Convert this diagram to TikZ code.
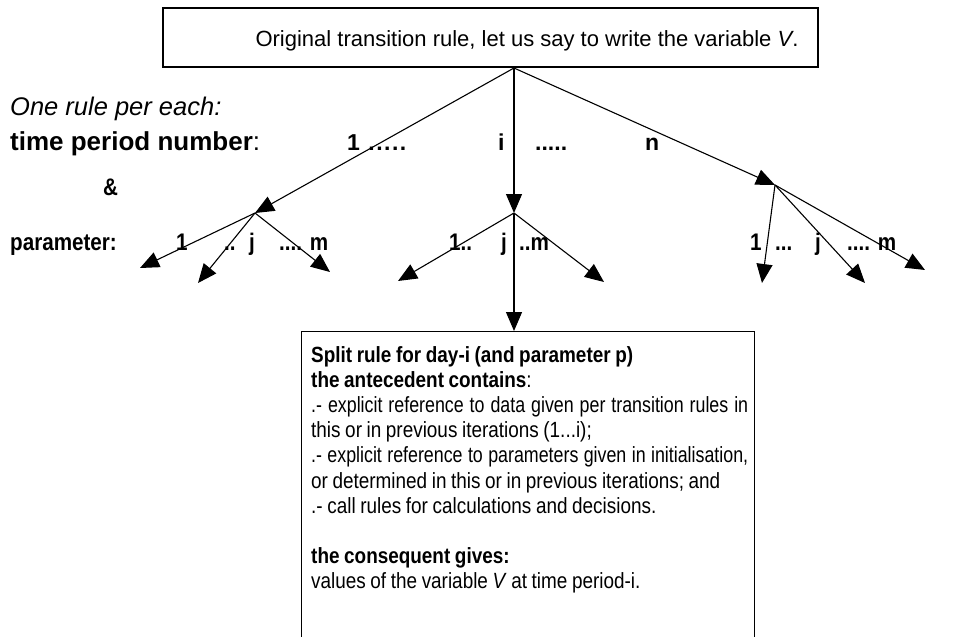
\documentclass[tikz,border=0pt]{standalone}
\usepackage{fontspec}
\setmainfont{Liberation Sans}
\newfontfamily\narrowfont[FakeStretch=0.86]{Liberation Sans}
\newfontfamily\boxfont[FakeStretch=0.81]{Liberation Sans}
\newfontfamily\boxwidefont[FakeStretch=0.86]{Liberation Sans}
\usetikzlibrary{arrows.meta}
\newcommand{\fullline}[1]{{\boxfont\makebox[437pt][s]{#1}}}
\newcommand{\boxspacing}{\spaceskip=4.6pt plus 12pt minus 1pt\relax\xspaceskip=4.6pt plus 12pt minus 1pt\relax}
\begin{document}
\begin{tikzpicture}[x=1pt,y=-1pt,
  arr/.style={-{Triangle[length=19pt,width=16pt]}, line width=1.1pt},
  bigbox/.style={draw, line width=1.1pt, inner sep=0pt},
  lbl/.style={anchor=base west, inner sep=0pt, font=\fontsize{23}{26}\selectfont\bfseries},
  nlbl/.style={anchor=base west, inner sep=0pt, font=\narrowfont\fontsize{24}{27}\selectfont\bfseries},
]
\useasboundingbox (0,0) rectangle (953,637);
% top box
\node[bigbox, minimum width=655pt, minimum height=59pt] (top) at (490.5,37.5) {};
\node[anchor=base, inner sep=0pt, font=\fontsize{22}{26}\selectfont] (toptext) at (527,46) {Original transition rule, let us say to write the variable \textit{V}.};
% points
\coordinate (root) at (514,68);
\coordinate (L) at (255,213);
\coordinate (M) at (514,213);
\coordinate (R) at (775,185);
\coordinate (L1) at (140,268);
\coordinate (L2) at (198,283);
\coordinate (L3) at (330,272);
\coordinate (M1) at (398,281);
\coordinate (M2) at (604,282);
\coordinate (R1) at (762,283);
\coordinate (R2) at (865,283);
\coordinate (R3) at (925,270);
% split box
\node[bigbox, anchor=north west, minimum width=453pt, minimum height=330pt] (split) at (301,331) {};
% arrows
\draw[arr] (root) -- (L);
\draw[arr] (root) -- (M);
\draw[arr] (root) -- (R);
\draw[arr] (L) -- (L1);
\draw[arr] (L) -- (L2);
\draw[arr] (L) -- (L3);
\draw[arr] (M) -- (M1);
\draw[arr] (M) -- (M2);
\draw[arr] (M) -- (M |- split.north);
\draw[arr] (R) -- (R1);
\draw[arr] (R) -- (R2);
\draw[arr] (R) -- (R3);
% left labels
\node[anchor=base west, inner sep=0pt, font=\fontsize{25.5}{28}\selectfont\itshape] (one) at (10,115) {One rule per each:};
\node[lbl, font=\fontsize{26}{29}\selectfont\bfseries] (tpn) at (10,150) {time period number\mdseries:};
\node[nlbl] (amp) at (103,195) {\&};
\node[nlbl] (par) at (10,250) {parameter:};
% time labels
\node[lbl] (t1) at (347,150) {1 \hspace{2pt}.\hspace{1.5pt}.\hspace{1.5pt}.\hspace{1.5pt}.\hspace{1.5pt}.};
\node[lbl] (ti) at (498,150) {i};
\node[lbl] (tdots) at (535,150) {.....};
\node[lbl] (tn) at (645,150) {n};
% parameter labels
\node[nlbl] (a1) at (176,250) {1};
\node[nlbl] (a2) at (224,250) {..};
\node[nlbl] (a3) at (249,250) {j};
\node[nlbl] (a4) at (279,250) {.... m};
\node[nlbl] (b1) at (449,250) {1..};
\node[nlbl] (b2) at (501,250) {j};
\node[nlbl] (b3) at (519,250) {..m};
\node[nlbl] (c1) at (750,250) {1};
\node[nlbl] (c2) at (775,250) {...};
\node[nlbl] (c3) at (815,250) {j};
\node[nlbl] (c4) at (847,250) {.... m};
% split text
\node[anchor=north west, inner sep=0pt, text width=437pt, align=left,
      font=\boxwidefont\fontsize{22}{25.2}\selectfont] (splittext) at (311,346) {\boxspacing
\textbf{Split rule for day-i (and parameter p)}\\
\textbf{the antecedent contains}:\\
\fullline{.- explicit reference to data given per transition rules in}\\
this or in previous iterations (1...i);\\
\fullline{.- explicit reference to parameters given in initialisation,}\\
or determined in this or in previous iterations; and\\
.- call rules for calculations and decisions.\\
\mbox{}\\
\textbf{the consequent gives:}\\
values of the variable \textit{V} at time period-i.};
\end{tikzpicture}
\end{document}
